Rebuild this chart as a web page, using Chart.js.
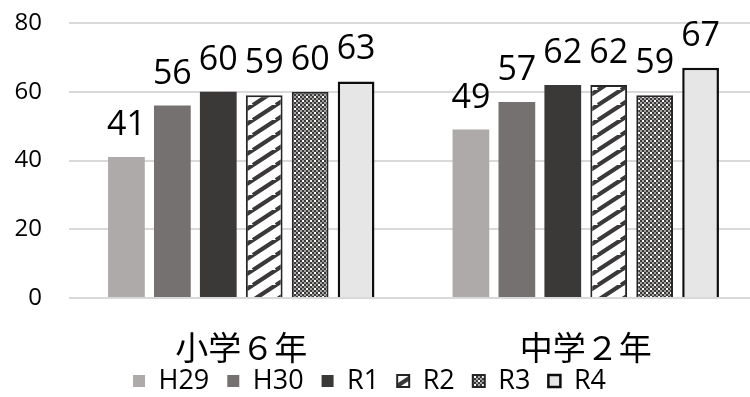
<!DOCTYPE html>
<html><head><meta charset="utf-8">
<script src="https://cdn.jsdelivr.net/npm/chart.js@4"></script>
<style>html,body{margin:0;padding:0;background:#fff;overflow:hidden;width:750px;height:397px}
canvas{display:block}</style>
</head><body>
<canvas id="c" width="760" height="397"></canvas>
<script>
const categories = ['小学６年', '中学２年'];
const seriesNames = ['H29', 'H30', 'R1', 'R2', 'R3', 'R4'];
const H29 = [41, 49];
const H30 = [56, 57];
const R1 = [60, 62];
const R2 = [59, 62];
const R3 = [60, 59];
const R4 = [63, 67];
const yTicks = [0, 20, 40, 60, 80];

function stripePattern() {
  const W = 23, H = 15;
  const c = document.createElement('canvas');
  c.width = W; c.height = H;
  const g = c.getContext('2d');
  g.fillStyle = '#ffffff'; g.fillRect(0, 0, W, H);
  g.strokeStyle = '#3b3838'; g.lineWidth = 4.2;
  for (let k = 0; k <= 2; k++) {
    g.beginPath();
    g.moveTo(-W + k * W, H);
    g.lineTo(W + k * W, -H);
    g.stroke();
  }
  return g.createPattern(c, 'repeat');
}
function checkPattern() {
  const c = document.createElement('canvas');
  c.width = 8; c.height = 8;
  const g = c.getContext('2d');
  g.fillStyle = '#ffffff'; g.fillRect(0, 0, 8, 8);
  for (let i = 0; i < 4; i++) for (let j = 0; j < 4; j++) {
    if ((i + j) % 2 === 0) { g.fillStyle = '#3b3838'; }
    else if ((i === 1 && j === 0) || (i === 3 && j === 2)) { g.fillStyle = '#ffffff'; }
    else { g.fillStyle = '#a6a4a4'; }
    g.fillRect(i * 2, j * 2, 2, 2);
  }
  return g.createPattern(c, 'repeat');
}

const fills = ['#aeaaaa', '#767171', '#3b3838', stripePattern(), checkPattern(), '#e7e6e6'];
const borders = ['#aeaaaa', '#767171', '#3b3838', '#262626', '#262626', '#0d0d0d'];
const bws = [0, 0, 0, 2, 2, 2.5];
const values = [H29, H30, R1, R2, R3, R4];

const labelPlugin = {
  id: 'barLabels',
  afterDatasetsDraw(chart) {
    const ctx = chart.ctx;
    ctx.save();
    ctx.font = '34px "Open Sans"';
    ctx.fillStyle = '#000';
    ctx.textAlign = 'center';
    ctx.textBaseline = 'alphabetic';
    chart.data.datasets.forEach((ds, i) => {
      chart.getDatasetMeta(i).data.forEach((bar, j) => {
        ctx.fillText(String(ds.data[j]), bar.x, bar.y - 22);
      });
    });
    ctx.restore();
  }
};
const legendShift = {
  id: 'legendShift',
  afterLayout(chart) {
    const L = chart.legend;
    if (L) { L.left -= 9.5; L.right -= 9.5; L.top -= 18.5; L.bottom -= 18.5; }
  }
};

new Chart(document.getElementById('c'), {
  type: 'bar',
  data: {
    labels: categories,
    datasets: seriesNames.map((n, i) => ({
      label: n,
      data: values[i],
      backgroundColor: fills[i],
      borderColor: borders[i],
      borderWidth: bws[i],
      categoryPercentage: 0.8,
      barPercentage: 0.8
    }))
  },
  options: {
    responsive: false,
    animation: false,
    devicePixelRatio: 1,
    layout: { padding: { left: 0, right: 2, top: 23, bottom: -26 } },
    plugins: {
      tooltip: { enabled: false },
      legend: {
        position: 'bottom',
        labels: {
          boxWidth: 12, boxHeight: 12, padding: 18,
          color: '#000',
          font: { family: '"Open Sans"', size: 27 }
        }
      }
    },
    scales: {
      x: {
        grid: { display: false, drawTicks: false },
        border: { display: false },
        ticks: { color: '#000', padding: 29.5, font: { family: '"Noto Sans CJK JP"', size: 33 } },
        afterFit(s) { s.height = 70; s.paddingLeft = 0; s.paddingRight = 0; s.paddingTop = 0; s.paddingBottom = 0; }
      },
      y: {
        min: 0, max: 80,
        afterBuildTicks(scale) { scale.ticks = yTicks.map(v => ({ value: v })); },
        grid: { color: '#d9d9d9', lineWidth: 2, drawTicks: false },
        border: { display: false },
        ticks: { color: '#000', padding: 27, font: { family: '"Open Sans"', size: 24 } },
        afterFit(s) { s.width = 69; s.paddingTop = 0; s.paddingBottom = 0; s.paddingLeft = 0; s.paddingRight = 0; }
      }
    }
  },
  plugins: [labelPlugin, legendShift]
});
</script>
</body></html>
